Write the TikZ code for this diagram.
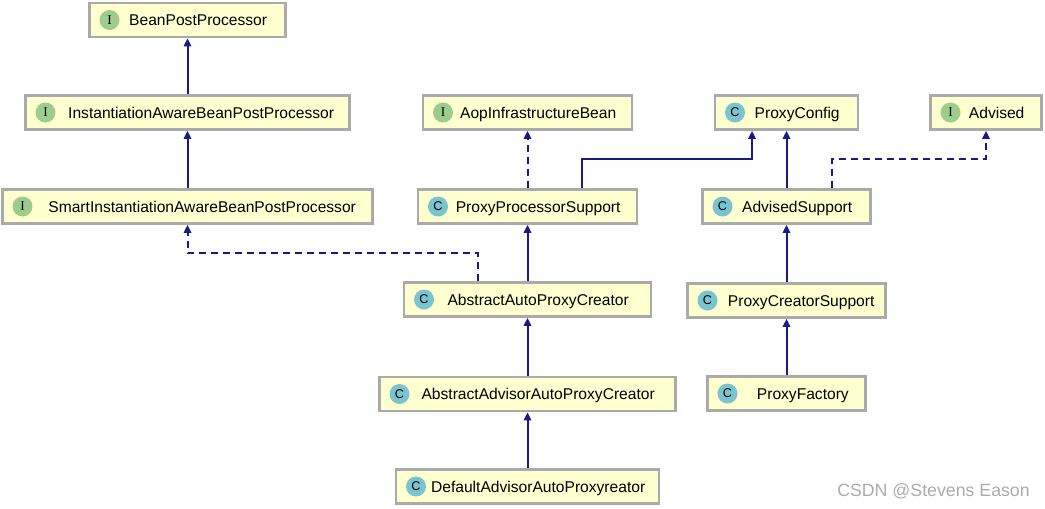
\documentclass[tikz,border=0pt]{standalone}
\usepackage{fontspec}
\setmainfont{Liberation Sans}
\newfontfamily\iconserif{Liberation Serif}
\usepackage{tikz}
\usetikzlibrary{arrows.meta, positioning}

\definecolor{umlline}{RGB}{25,25,135}
\definecolor{umlfill}{RGB}{255,255,208}
\definecolor{umlborder}{RGB}{170,170,170}
\definecolor{igreen}{RGB}{158,204,140}
\definecolor{cteal}{RGB}{122,196,208}
\newcommand\pxu{0.75pt}

\begin{document}
\begin{tikzpicture}[x=0.75pt, y=-0.75pt,
            textpad/.store in=\boxpad, textpad=16pt,
            box/.style={draw=umlborder, line width=2pt, fill=umlfill, rectangle, minimum height=34*\pxu, inner sep=0pt,
                text height=8.4pt, text depth=0pt, font=\fontsize{11.7}{14}\selectfont,
                execute at begin node={\hspace*{\boxpad}}},
            iconI/.style={circle, fill=igreen, minimum size=15pt, inner sep=0pt, anchor=center, xshift=16pt,
                text height=, text depth=, font=\iconserif\fontsize{10}{11}\selectfont},
            iconC/.style={iconI, fill=cteal, font=\fontsize{9.5}{11}\selectfont},
            iface/.style={box, label={[iconI]west:I}},
            cls/.style={box, label={[iconC]west:C}},
            arrow/.style={-{Triangle[length=6pt, width=5.5pt]}, line width=1.5pt, draw=umlline},
            implarrow/.style={arrow, dash pattern=on 5.25pt off 3.75pt}]

            \useasboundingbox (0,0) rectangle (1045,508);

            % left column
            \node[iface, minimum width=196*\pxu] (bpp) at (187.5,20) {BeanPostProcessor};
            \node[iface, minimum width=324*\pxu, textpad=20.5pt] (iabpp) at (187.5,112.5) {InstantiationAwareBeanPostProcessor};
            \node[iface, minimum width=370*\pxu, textpad=22pt] (siabpp) at (187.5,206.5) {SmartInstantiationAwareBeanPostProcessor};

            % middle column
            \node[iface, minimum width=209*\pxu] (aop) at (527.5,112.5) {AopInfrastructureBean};
            \node[cls, minimum width=219*\pxu] (pps) at (527.5,206.5) {ProxyProcessorSupport};
            \node[cls, minimum width=247*\pxu] (aapc) at (527.5,299.5) {AbstractAutoProxyCreator};
            \node[cls, minimum width=296*\pxu] (aaapc) at (527.5,394) {AbstractAdvisorAutoProxyCreator};
            \node[cls, minimum width=263*\pxu] (daapr) at (527.5,486.5) {DefaultAdvisorAutoProxyreator};

            % right column
            \node[cls, minimum width=143*\pxu] (pcfg) at (786.5,112.5) {ProxyConfig};
            \node[iface, minimum width=111*\pxu] (adv) at (986,112.5) {Advised};
            \node[cls, minimum width=168*\pxu] (advs) at (786.5,206.5) {AdvisedSupport};
            \node[cls, minimum width=198*\pxu, textpad=22pt] (pcs) at (786.5,300.5) {ProxyCreatorSupport};
            \node[cls, minimum width=158*\pxu, textpad=24.5pt] (pf) at (786.5,393.5) {ProxyFactory};

            \node[font=\fontsize{13.3}{15}\selectfont, text=black!33] (watermark) at (933.5,491.5) {CSDN @Stevens Eason};

            \draw[arrow] (iabpp) -- (bpp);
            \draw[arrow] (siabpp) -- (iabpp);
            \draw[implarrow] ([xshift=-49.5*\pxu]aapc.north) -- ++(0,-28) -| (siabpp);
            \draw[implarrow] (pps) -- (aop);
            \draw[arrow] ([xshift=54.5*\pxu]pps.north) -- ++(0,-29) -| ([xshift=-34.5*\pxu]pcfg.south);
            \draw[arrow] (advs) -- (pcfg);
            \draw[implarrow] ([xshift=45.5*\pxu]advs.north) -- ++(0,-29) -| (adv);
            \draw[arrow] (aapc) -- (pps);
            \draw[arrow] (aaapc) -- (aapc);
            \draw[arrow] (daapr) -- (aaapc);
            \draw[arrow] (pcs) -- (advs);
            \draw[arrow] (pf) -- (pcs);
        \end{tikzpicture}
\end{document}
